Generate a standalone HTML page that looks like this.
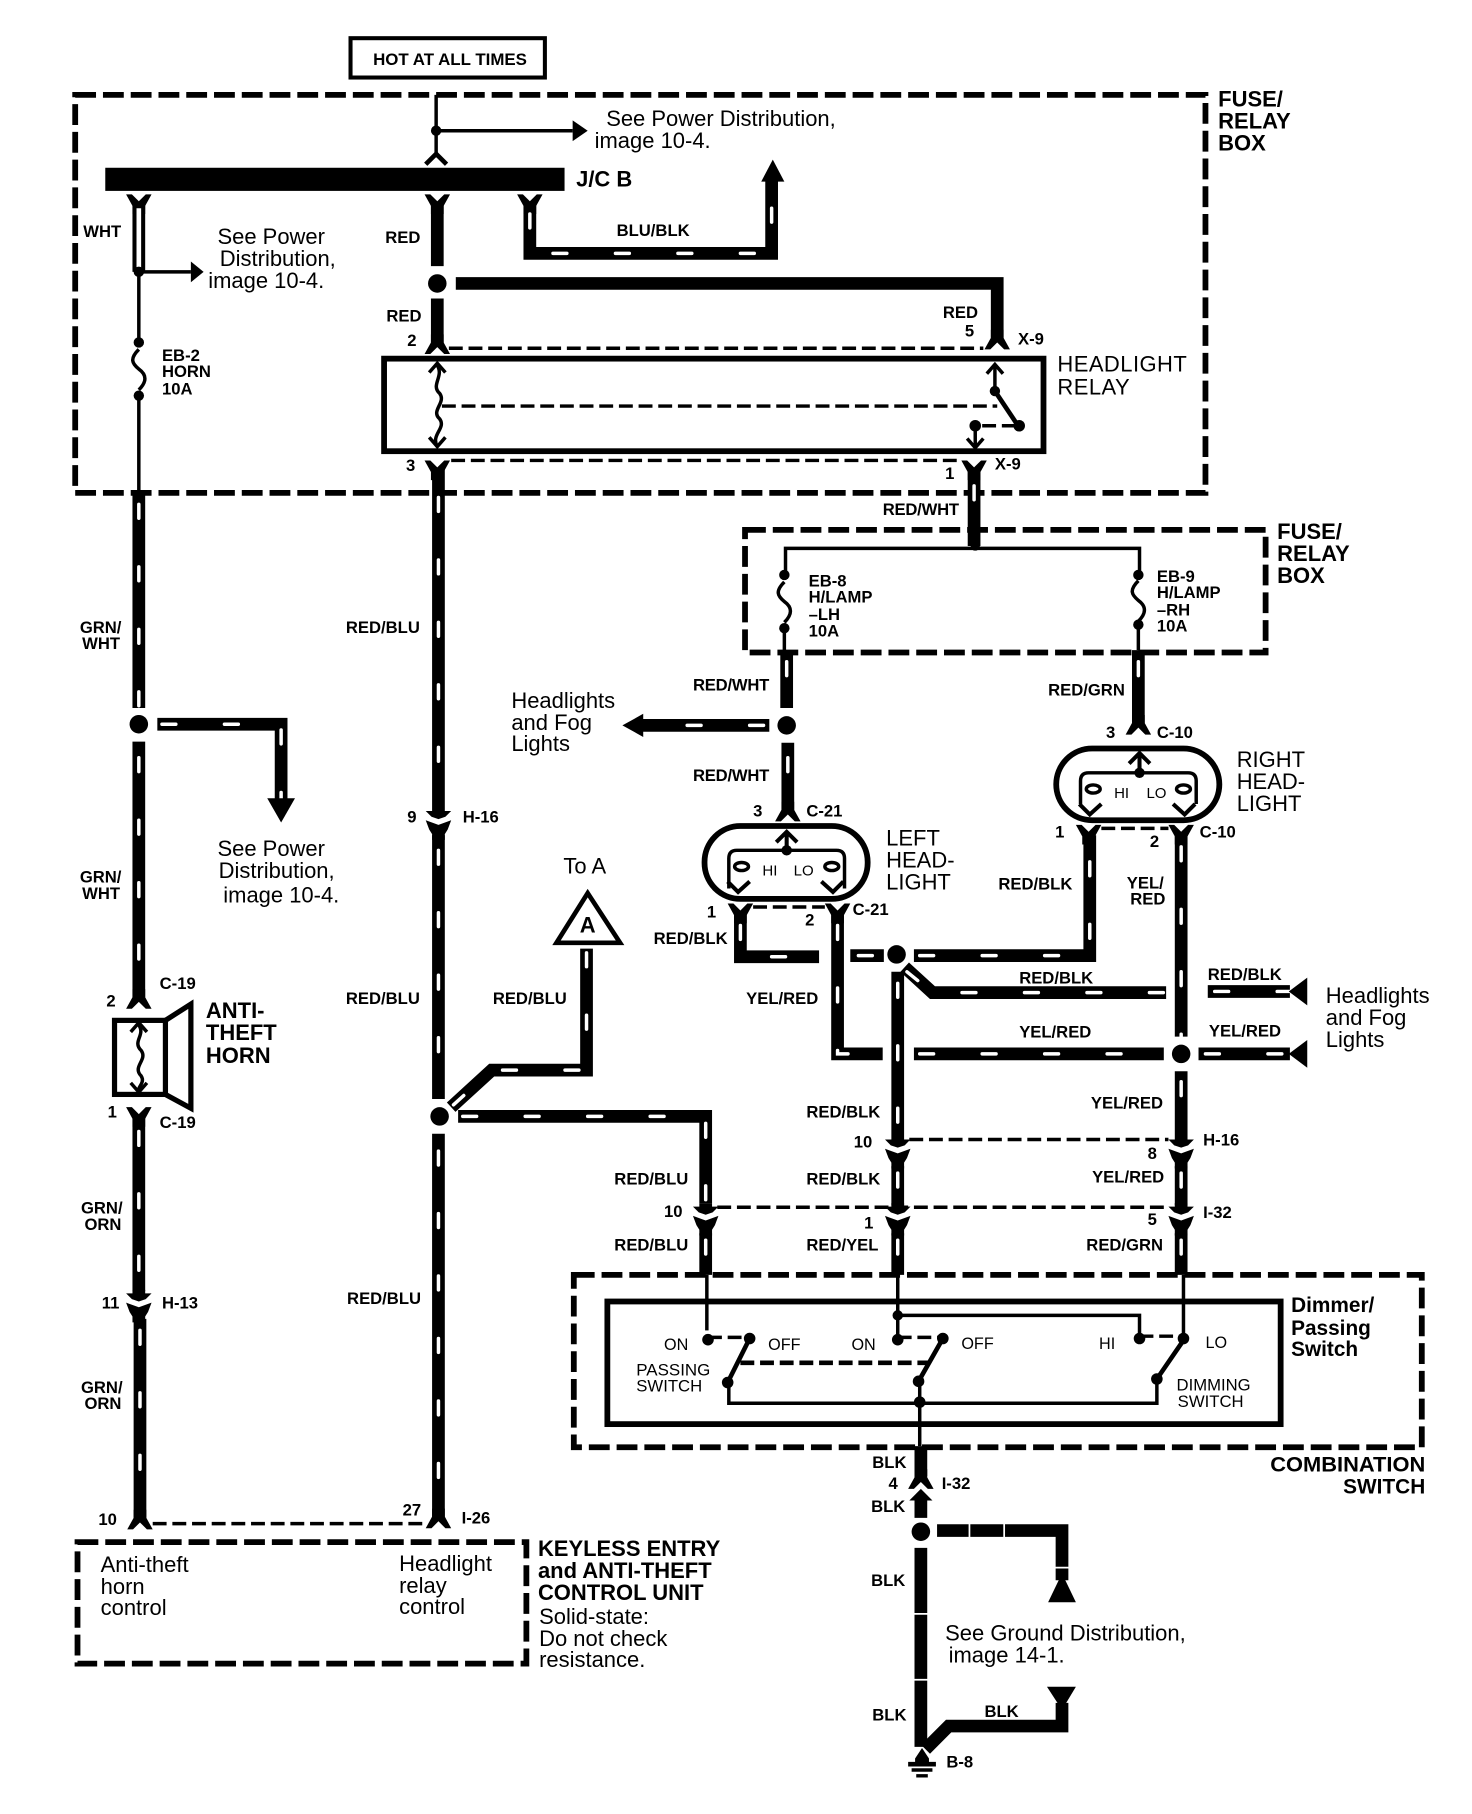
<!DOCTYPE html>
<html><head><meta charset="utf-8">
<style>
html,body{margin:0;padding:0;background:#fff}
svg{display:block}
text{font-family:"Liberation Sans",sans-serif;fill:#000}
.b{font-weight:bold;font-size:14.4px}
.n{font-size:19px}
.h{font-weight:bold;font-size:19px}
.s{font-size:13px}
.k{fill:none;stroke:#000;stroke-width:11}
.w{fill:none;stroke:#fff;stroke-width:3;stroke-dasharray:12 42;stroke-linecap:round}
.t{fill:none;stroke:#000;stroke-width:3}
.d{fill:none;stroke:#000;stroke-width:5;stroke-dasharray:18 6}
.f{fill:none;stroke:#000;stroke-width:3;stroke-dasharray:12 5}
.c{fill:none;stroke:#000;stroke-width:4}
</style></head><body>
<svg xmlns="http://www.w3.org/2000/svg" width="1472" height="1814" viewBox="0 0 1272.4 1568">
<defs>
<path id="up" d="M-11,-7H-6L0,-1L6,-7H11L5.5,3V10H-5.5V3Z"/>
<path id="dn" d="M-11,7H-6L0,1L6,7H11L5.5,-3V-10H-5.5V-3Z"/>
<path id="pair" d="M-5.5,-10V-7H-11L-6,-2L0,0L6,-2L11,-7H5.5V-10ZM-11,1L0,5L11,1L8,9L5.5,13V18H-5.5V13L-8,9Z"/>
<path id="fuse" d="M0,0C-8,8 -6,12 0,17C7,22 7,28 0,35" fill="none" stroke="#000" stroke-width="3"/>
</defs>
<rect width="1273" height="1568" fill="#fff"/>

<!-- dashed enclosures -->
<rect x="65" y="82" width="977" height="344" class="d"/>
<rect x="644" y="458" width="450" height="106" class="d"/>
<rect x="496" y="1102" width="733" height="149" class="d"/>
<rect x="67" y="1333" width="388" height="105" class="d"/>

<!-- hot box -->
<rect x="303" y="33" width="168" height="34" fill="#fff" stroke="#000" stroke-width="3.5"/>
<text x="389" y="56" class="b" text-anchor="middle" textLength="133" lengthAdjust="spacingAndGlyphs">HOT AT ALL TIMES</text>

<!-- top feed -->
<path d="M377,82V136" class="t"/>
<circle cx="377" cy="113" r="4.5"/>
<path d="M377,113H495" class="t"/>
<path d="M495,104L508,113L495,122Z"/>
<path d="M368,142L377,133L386,142" class="c"/>
<rect x="91" y="145" width="397" height="20"/>

<!-- WHT -->
<use href="#up" x="120" y="175"/>
<path d="M120,175V235" class="k"/>
<path d="M120,180V232" fill="none" stroke="#fff" stroke-width="4"/>
<circle cx="120" cy="235" r="4.5"/>
<path d="M120,235H165" class="t"/>
<path d="M165,226L176,235L165,244Z"/>
<path d="M120,235V293M120,340V426" class="t"/>
<circle cx="120" cy="296" r="4.5"/><circle cx="120" cy="342" r="4.5"/>
<use href="#fuse" x="120" y="302"/>

<!-- RED -->
<use href="#up" x="378" y="175"/>
<path d="M378,175V230" class="k"/>
<circle cx="378" cy="245" r="8"/>
<path d="M394,245H862V292" class="k"/>
<path d="M378,258V298" class="k"/>
<use href="#dn" x="378" y="299"/>
<use href="#dn" x="862" y="295"/>
<path d="M388,301H850" class="f"/>

<!-- BLU/BLK -->
<use href="#up" x="458" y="175"/>
<path d="M458,175V219H667V155" class="k"/>
<path d="M458,185V219H667V155" class="w"/>
<path d="M658,157L668,138L678,157Z"/>

<!-- relay -->
<rect x="332" y="310" width="570" height="80" fill="none" stroke="#000" stroke-width="5"/>
<path d="M378,316C384,325 372,333 380,340C386,348 372,355 380,362C386,370 372,376 378,386" fill="none" stroke="#000" stroke-width="3"/>
<path d="M371,322L378,314L385,322M371,378L378,386L385,378" fill="none" stroke="#000" stroke-width="3"/>
<path d="M382,351H862" class="f"/>
<path d="M860,315V338" class="t"/>
<path d="M853,323L860,315L867,323" class="c" style="stroke-width:3"/>
<circle cx="860" cy="338" r="4.5"/>
<path d="M860,338L880,368" class="c"/>
<circle cx="881" cy="368" r="5"/>
<path d="M878,368H848" class="f"/>
<circle cx="843" cy="368" r="5"/>
<path d="M843,368V386" class="t"/>
<path d="M836,379L843,387L850,379" class="c" style="stroke-width:3"/>
<use href="#up" x="378" y="405"/>
<use href="#up" x="842" y="405"/>
<path d="M390,398H830" class="f"/>

<!-- RED/BLU main -->
<path d="M379,405V698" class="k"/><path d="M379,430V695" class="w"/>
<use href="#pair" x="379" y="708"/>
<path d="M379,722V950" class="k"/><path d="M379,735V950" class="w"/>
<circle cx="380" cy="965" r="8"/>
<path d="M379,980V1312" class="k"/><path d="M379,995V1312" class="w"/>
<use href="#dn" x="379" y="1314"/>
<path d="M390,957L425,925H507V820" class="k"/><path d="M392,955L425,925H507V820" class="w"/>
<path d="M508,772L481,815H536Z" fill="#fff" stroke="#000" stroke-width="4"/>
<text x="508" y="806" class="h" text-anchor="middle">A</text>
<path d="M396,965H610V1040" class="k"/><path d="M400,965H610V1040" class="w"/>
<use href="#pair" x="610" y="1050"/>
<path d="M610,1066V1102" class="k"/><path d="M610,1072V1098" class="w"/>
<path d="M611,1102V1150" class="t"/>

<!-- GRN/WHT left -->
<path d="M120,426V612" class="k"/><path d="M120,436V612" class="w"/>
<circle cx="120" cy="626" r="8"/>
<path d="M136,626H243V692" class="k"/><path d="M140,626H243V692" class="w"/>
<path d="M231,690H255L243,711Z"/>
<path d="M120,641V862" class="k"/><path d="M120,655V858" class="w"/>
<use href="#dn" x="120" y="865"/>
<rect x="99" y="882" width="44" height="64" fill="none" stroke="#000" stroke-width="4.5"/>
<path d="M143,882L165,868V958L143,946" fill="none" stroke="#000" stroke-width="4.5"/>
<path d="M120,886C126,895 114,900 122,908C128,916 114,922 122,930C126,936 118,940 120,944" fill="none" stroke="#000" stroke-width="3"/>
<path d="M113,892L120,884L127,892M113,936L120,944L127,936" fill="none" stroke="#000" stroke-width="3"/>
<use href="#up" x="120" y="964"/>
<path d="M120,964V1116" class="k"/><path d="M120,978V1112" class="w"/>
<use href="#pair" x="120" y="1125"/>
<path d="M121,1140V1312" class="k"/><path d="M121,1150V1308" class="w"/>
<use href="#dn" x="121" y="1315"/>
<path d="M132,1317H370" class="f"/>

<!-- RED/WHT top -->
<path d="M842,405V472" class="k"/><path d="M842,420V470" class="w"/>
<circle cx="843" cy="472" r="4"/>
<path d="M679,496V474H985V498" class="t"/>
<circle cx="678" cy="497" r="4.5"/><circle cx="678" cy="543" r="4.5"/>
<circle cx="984" cy="497" r="4.5"/><circle cx="984" cy="540" r="4.5"/>
<use href="#fuse" x="678" y="503"/><use href="#fuse" x="984" y="502"/>
<path d="M678,543V562M984,540V562" class="t"/>
<path d="M680,562V612" class="k"/><path d="M680,572V612" class="w"/>
<circle cx="680" cy="627" r="8"/>
<path d="M665,627H555" class="k"/><path d="M660,627H555" class="w"/>
<path d="M556,617V637L538,627Z"/>
<path d="M681,642V700" class="k"/><path d="M681,655V696" class="w"/>
<use href="#dn" x="681" y="703"/>
<path d="M984,562V625" class="k"/><path d="M984,572V620" class="w"/>
<use href="#dn" x="984" y="628"/>

<!-- left headlight -->
<rect x="609" y="714" width="141" height="63" rx="31" fill="#fff" stroke="#000" stroke-width="5"/>
<path d="M630,768V742Q630,735 637,735H723Q730,735 730,742V768" class="t"/>
<circle cx="680" cy="735" r="4.5"/>
<path d="M680,720V735M671,728L680,719L689,728" class="c" style="stroke-width:3.5"/>
<ellipse cx="641" cy="749" rx="6" ry="3.5" fill="none" stroke="#000" stroke-width="3"/>
<ellipse cx="719" cy="749" rx="6" ry="3.5" fill="none" stroke="#000" stroke-width="3"/>
<path d="M629,762L638,771L648,762M710,762L720,771L729,762" class="c" style="stroke-width:3.5"/>
<text x="659" y="757" class="s" textLength="13" lengthAdjust="spacingAndGlyphs">HI</text>
<text x="686" y="757" class="s">LO</text>
<use href="#up" x="640" y="788"/><use href="#up" x="724" y="788"/>
<path d="M651,784H713" class="f"/>

<!-- right headlight -->
<rect x="913" y="647" width="141" height="62" rx="31" fill="#fff" stroke="#000" stroke-width="5"/>
<path d="M934,695V675Q934,668 941,668H1027Q1034,668 1034,675V695" class="t"/>
<circle cx="985" cy="668" r="4.5"/>
<path d="M985,652V668M976,660L985,651L994,660" class="c" style="stroke-width:3.5"/>
<ellipse cx="945" cy="682" rx="6" ry="3.5" fill="none" stroke="#000" stroke-width="3"/>
<ellipse cx="1023" cy="682" rx="6" ry="3.5" fill="none" stroke="#000" stroke-width="3"/>
<path d="M933,695L942,704L952,695M1014,695L1024,704L1033,695" class="c" style="stroke-width:3.5"/>
<text x="963" y="690" class="s" textLength="13" lengthAdjust="spacingAndGlyphs">HI</text>
<text x="991" y="690" class="s">LO</text>
<use href="#up" x="941" y="720"/><use href="#up" x="1021" y="720"/>
<path d="M952,716H1010" class="f"/>

<!-- lower right wiring -->
<path d="M640,789V827H708" class="k"/><path d="M640,800V827H708" class="w"/>
<path d="M735,826H764" class="k"/><path d="M742,826H764" class="w"/>
<circle cx="775" cy="825" r="8"/>
<path d="M790,826H942V722" class="k"/><path d="M795,826H942V722" class="w"/>
<path d="M782,836L806,858H1008" class="k"/><path d="M784,840L806,858H1008" class="w"/>
<path d="M724,789V911H763" class="k"/><path d="M724,800V911H763" class="w"/>
<path d="M790,911H1006" class="k"/><path d="M795,911H1006" class="w"/>
<circle cx="1021" cy="911" r="8"/>
<path d="M1036,911H1115" class="k"/><path d="M1042,911H1115" class="w"/>
<path d="M1130,899V923L1114,911Z"/>
<path d="M1044,857H1115" class="k"/><path d="M1050,857H1115" class="w"/>
<path d="M1130,845V869L1114,857Z"/>
<path d="M1021,722V896" class="k"/><path d="M1021,732V896" class="w"/>
<path d="M1021,926V982" class="k"/><path d="M1021,935V978" class="w"/>
<path d="M776,840V982" class="k"/><path d="M776,850V978" class="w"/>
<use href="#pair" x="776" y="992"/><use href="#pair" x="1021" y="992"/>
<path d="M786,985H1010" class="f"/>
<path d="M776,1008V1042" class="k"/><path d="M776,1014V1036" class="w"/>
<path d="M1021,1008V1042" class="k"/><path d="M1021,1014V1036" class="w"/>
<use href="#pair" x="776" y="1050"/><use href="#pair" x="1021" y="1050"/>
<path d="M620,1043.5H1010" class="f"/>
<path d="M776,1066V1102" class="k"/><path d="M776,1072V1098" class="w"/>
<path d="M1021,1066V1102" class="k"/><path d="M1021,1072V1098" class="w"/>
<path d="M776,1102V1158M1023,1102V1158" class="t"/>

<!-- combination switch -->
<rect x="525" y="1125" width="582" height="106" fill="none" stroke="#000" stroke-width="5"/>
<circle cx="612" cy="1158" r="5"/><circle cx="776" cy="1158" r="5"/><circle cx="985" cy="1157" r="5"/>
<circle cx="776" cy="1137" r="4.5"/>
<path d="M776,1137H985V1157" class="t"/>
<path d="M612,1156H646M776,1156H813M985,1155H1020" class="f"/>
<path d="M648,1157L629,1195M815,1157L794,1194M1024,1157L1000,1192" class="c"/>
<circle cx="648" cy="1157" r="5"/><circle cx="815" cy="1157" r="5"/><circle cx="1023" cy="1157" r="5"/>
<circle cx="629" cy="1195" r="5"/><circle cx="794" cy="1194" r="5"/><circle cx="1000" cy="1192" r="5"/>
<path d="M640,1178H802" class="f" style="stroke-width:4"/>
<path d="M630,1195V1213H1000V1192M795,1194V1250" class="t"/>
<circle cx="795" cy="1212" r="5"/>

<!-- BLK bottom -->
<path d="M796,1250V1276" class="k"/>
<use href="#dn" x="796" y="1280"/>
<path d="M786,1297L796,1287L806,1297Z"/>
<path d="M796,1295V1312" class="k"/>
<circle cx="796" cy="1324" r="8"/>
<path d="M810,1323H918V1366" class="k"/>
<path d="M838,1316V1330M868,1316V1330M910,1355H926" stroke="#fff" stroke-width="1.5" fill="none"/>
<path d="M918,1360L906,1385H930Z"/>
<path d="M796,1338V1510" class="k"/>
<path d="M788,1395H804M788,1452H804" stroke="#fff" stroke-width="1.5" fill="none"/>
<path d="M800,1512L820,1492H918V1472" class="k"/>
<path d="M905,1458H930L918,1478Z"/>
<path d="M797,1511L791,1520V1525H803V1520Z"/>
<path d="M785,1525H809" class="c"/><path d="M788,1530H806M792,1535H802" class="t"/>

<!-- labels: wire -->
<text x="72" y="205" class="b">WHT</text>
<text x="333" y="210" class="b">RED</text>
<text x="334" y="278" class="b">RED</text>
<text x="815" y="275" class="b">RED</text>
<text x="533" y="204" class="b">BLU/BLK</text>
<text x="763" y="445" class="b" textLength="66">RED/WHT</text>
<text x="299" y="547" class="b">RED/BLU</text>
<text x="299" y="868" class="b">RED/BLU</text>
<text x="300" y="1127" class="b">RED/BLU</text>
<text x="426" y="868" class="b">RED/BLU</text>
<text x="531" y="1024" class="b">RED/BLU</text>
<text x="531" y="1081" class="b">RED/BLU</text>
<text x="599" y="597" class="b" textLength="66">RED/WHT</text>
<text x="599" y="675" class="b" textLength="66">RED/WHT</text>
<text x="906" y="601" class="b">RED/GRN</text>
<text x="565" y="816" class="b">RED/BLK</text>
<text x="645" y="868" class="b">YEL/RED</text>
<text x="863" y="769" class="b">RED/BLK</text>
<text x="974" y="768" class="b">YEL/</text><text x="977" y="782" class="b">RED</text>
<text x="881" y="850" class="b">RED/BLK</text>
<text x="1044" y="847" class="b">RED/BLK</text>
<text x="881" y="897" class="b">YEL/RED</text>
<text x="1045" y="896" class="b">YEL/RED</text>
<text x="943" y="958" class="b">YEL/RED</text>
<text x="697" y="966" class="b">RED/BLK</text>
<text x="697" y="1024" class="b">RED/BLK</text>
<text x="944" y="1022" class="b">YEL/RED</text>
<text x="697" y="1081" class="b">RED/YEL</text>
<text x="939" y="1081" class="b">RED/GRN</text>
<text x="69" y="547" class="b">GRN/</text><text x="71" y="561" class="b">WHT</text>
<text x="69" y="763" class="b">GRN/</text><text x="71" y="777" class="b">WHT</text>
<text x="70" y="1049" class="b">GRN/</text><text x="73" y="1063" class="b">ORN</text>
<text x="70" y="1204" class="b">GRN/</text><text x="73" y="1218" class="b">ORN</text>
<text x="754" y="1269" class="b">BLK</text>
<text x="753" y="1307" class="b">BLK</text>
<text x="753" y="1371" class="b">BLK</text>
<text x="754" y="1487" class="b">BLK</text>
<text x="851" y="1484" class="b">BLK</text>

<!-- labels: connectors -->
<text x="352" y="299" class="b">2</text><text x="351" y="407" class="b">3</text>
<text x="834" y="291" class="b">5</text><text x="817" y="414" class="b">1</text>
<text x="880" y="298" class="b">X-9</text><text x="860" y="406" class="b">X-9</text>
<text x="352" y="711" class="b">9</text><text x="400" y="711" class="b">H-16</text>
<text x="92" y="870" class="b">2</text><text x="138" y="855" class="b">C-19</text>
<text x="93" y="966" class="b">1</text><text x="138" y="975" class="b">C-19</text>
<text x="88" y="1131" class="b">11</text><text x="140" y="1131" class="b">H-13</text>
<text x="85" y="1318" class="b">10</text>
<text x="348" y="1310" class="b">27</text><text x="399" y="1317" class="b">I-26</text>
<text x="651" y="706" class="b">3</text><text x="697" y="706" class="b">C-21</text>
<text x="611" y="793" class="b">1</text><text x="696" y="800" class="b">2</text><text x="737" y="791" class="b">C-21</text>
<text x="956" y="638" class="b">3</text><text x="1000" y="638" class="b">C-10</text>
<text x="912" y="724" class="b">1</text><text x="994" y="732" class="b">2</text><text x="1037" y="724" class="b">C-10</text>
<text x="738" y="992" class="b">10</text><text x="992" y="1002" class="b">8</text><text x="1040" y="990" class="b">H-16</text>
<text x="574" y="1052" class="b">10</text><text x="747" y="1062" class="b">1</text><text x="992" y="1059" class="b">5</text><text x="1040" y="1053" class="b">I-32</text>
<text x="768" y="1287" class="b">4</text><text x="814" y="1287" class="b">I-32</text>
<text x="818" y="1528" class="b">B-8</text>

<!-- fuses -->
<g class="b">
<text x="140" y="312">EB-2</text><text x="140" y="326">HORN</text><text x="140" y="341">10A</text>
<text x="699" y="507">EB-8</text><text x="699" y="521">H/LAMP</text><text x="699" y="536">–LH</text><text x="699" y="550">10A</text>
<text x="1000" y="503">EB-9</text><text x="1000" y="517">H/LAMP</text><text x="1000" y="532">–RH</text><text x="1000" y="546">10A</text>
</g>

<!-- headings -->
<g class="h">
<text x="1053" y="92">FUSE/</text><text x="1053" y="111">RELAY</text><text x="1053" y="130">BOX</text>
<text x="1104" y="466">FUSE/</text><text x="1104" y="485">RELAY</text><text x="1104" y="504">BOX</text>
<text x="498" y="161">J/C B</text>
<text x="914" y="321" font-weight="normal" letter-spacing="0.4">HEADLIGHT</text><text x="914" y="341" font-weight="normal" letter-spacing="0.4">RELAY</text>
<text x="1069" y="663" font-weight="normal">RIGHT</text><text x="1069" y="682" font-weight="normal">HEAD-</text><text x="1069" y="701" font-weight="normal">LIGHT</text>
<text x="766" y="731" font-weight="normal">LEFT</text><text x="766" y="750" font-weight="normal">HEAD-</text><text x="766" y="769" font-weight="normal">LIGHT</text>
<text x="178" y="880">ANTI-</text><text x="178" y="899">THEFT</text><text x="178" y="919">HORN</text>
<text x="1116" y="1134" style="font-size:18px">Dimmer/</text><text x="1116" y="1154" style="font-size:18px">Passing</text><text x="1116" y="1172" style="font-size:18px">Switch</text>
<text x="1232" y="1272" text-anchor="end" style="font-size:18px" textLength="134" lengthAdjust="spacingAndGlyphs">COMBINATION</text><text x="1232" y="1291" text-anchor="end" style="font-size:18px">SWITCH</text>
<text x="465" y="1345">KEYLESS ENTRY</text><text x="465" y="1364">and ANTI-THEFT</text><text x="465" y="1383">CONTROL UNIT</text>
</g>

<!-- notes -->
<g class="n">
<text x="524" y="109">See Power Distribution,</text><text x="514" y="128">image 10-4.</text>
<text x="188" y="211">See Power</text><text x="190" y="230">Distribution,</text><text x="180" y="249">image 10-4.</text>
<text x="188" y="740">See Power</text><text x="189" y="759">Distribution,</text><text x="193" y="780">image 10-4.</text>
<text x="442" y="612">Headlights</text><text x="442" y="631">and Fog</text><text x="442" y="649">Lights</text>
<text x="1146" y="867">Headlights</text><text x="1146" y="886">and Fog</text><text x="1146" y="905">Lights</text>
<text x="487" y="755">To A</text>
<text x="87" y="1359">Anti-theft</text><text x="87" y="1378">horn</text><text x="87" y="1396">control</text>
<text x="345" y="1358">Headlight</text><text x="345" y="1377">relay</text><text x="345" y="1395">control</text>
<text x="466" y="1404">Solid-state:</text><text x="466" y="1423">Do not check</text><text x="466" y="1441">resistance.</text>
<text x="817" y="1418">See Ground Distribution,</text><text x="820" y="1437">image 14-1.</text>
</g>

<!-- switch labels -->
<g style="font-size:14px">
<text x="574" y="1167">ON</text><text x="664" y="1167">OFF</text><text x="736" y="1167">ON</text><text x="831" y="1166">OFF</text>
<text x="950" y="1166">HI</text><text x="1042" y="1165">LO</text>
<text x="550" y="1189" textLength="64" lengthAdjust="spacingAndGlyphs">PASSING</text><text x="550" y="1203" textLength="57" lengthAdjust="spacingAndGlyphs">SWITCH</text>
<text x="1017" y="1202" textLength="64" lengthAdjust="spacingAndGlyphs">DIMMING</text><text x="1018" y="1216" textLength="57" lengthAdjust="spacingAndGlyphs">SWITCH</text>
</g>
</svg>
</body></html>
